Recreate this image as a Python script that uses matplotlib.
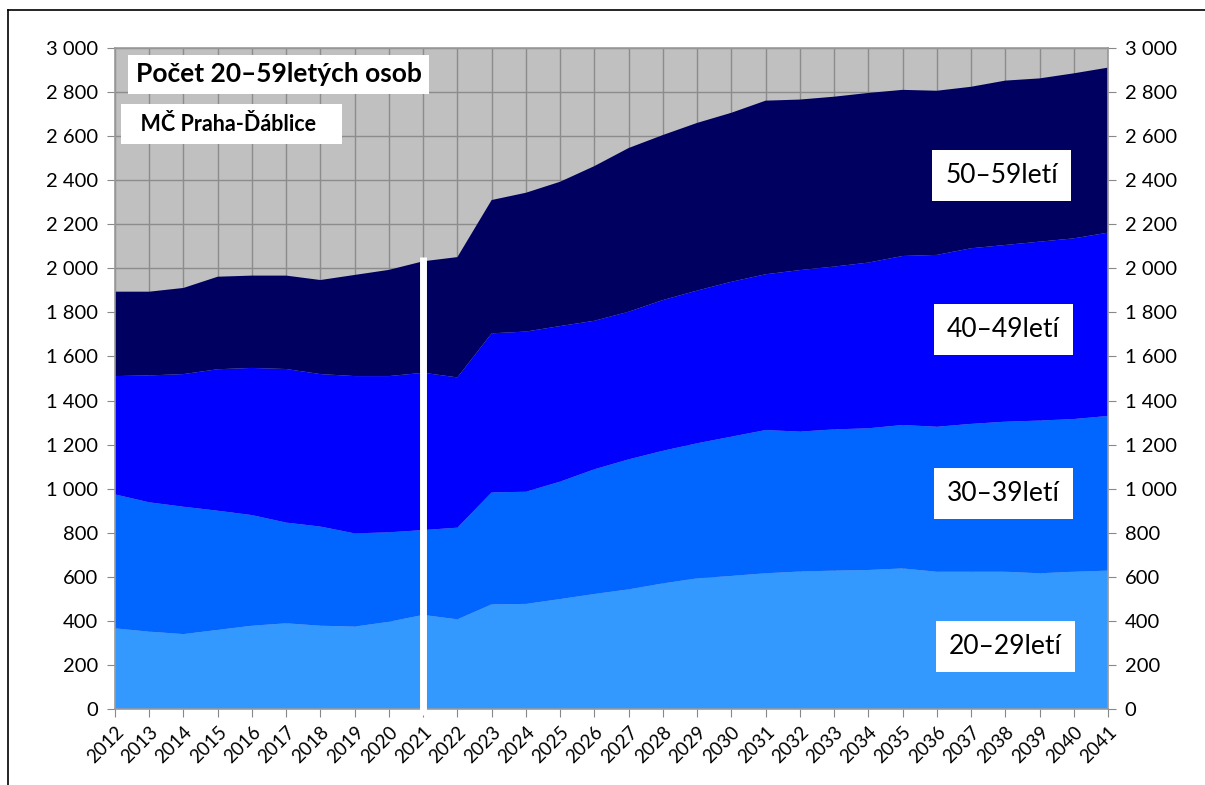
import matplotlib
matplotlib.use("Agg")
import matplotlib.pyplot as plt
from matplotlib.ticker import FuncFormatter, MultipleLocator

years = list(range(2012, 2042))

# počty osob podle věkových skupin
age_20_29 = [366, 351, 340, 359, 378, 389, 378, 374, 396, 427,
             407, 475, 477, 499, 522, 543, 570, 593, 604, 616,
             624, 628, 631, 638, 623, 623, 623, 616, 623, 628]
age_30_39 = [608, 587, 578, 541, 502, 457, 450, 423, 406, 385,
             416, 508, 509, 533, 566, 590, 602, 613, 632, 650,
             635, 641, 643, 651, 658, 671, 681, 693, 693, 702]
age_40_49 = [537, 576, 602, 642, 668, 697, 692, 714, 709, 714,
             682, 722, 727, 706, 674, 670, 684, 693, 703, 707,
             733, 739, 752, 767, 780, 797, 802, 812, 820, 832]
age_50_59 = [383, 380, 391, 420, 419, 424, 427, 459, 482, 506,
             546, 605, 630, 655, 702, 743, 749, 761, 767, 788,
             774, 771, 770, 754, 745, 733, 746, 741, 749, 749]

series_labels = ["20–29letí", "30–39letí", "40–49letí", "50–59letí"]
colors = ["#3399FF", "#0066FF", "#0000FF", "#000060"]

title = "Počet 20–59letých osob"
subtitle = "MČ Praha-Ďáblice"
marker_year = 2021
marker_top = 2050

plt.rcParams["font.family"] = ["Lato", "DejaVu Sans"]

fig = plt.figure(figsize=(12.05, 7.85), dpi=100)
ax = fig.add_axes([115 / 1205, 76 / 785, 993 / 1205, 661 / 785])

ax.set_facecolor("#C0C0C0")
ax.stackplot(years, age_20_29, age_30_39, age_40_49, age_50_59,
             colors=colors, linewidth=0)
ax.set_axisbelow(True)
ax.grid(True, color="#8C8C8C", linewidth=1)

ax.set_xlim(2012, 2041)
ax.set_ylim(0, 3000)
ax.set_xticks(years)
ax.set_xticklabels([str(y) for y in years], rotation=45, ha="right",
                   rotation_mode="anchor", fontsize=13.5)
ax.yaxis.set_major_locator(MultipleLocator(200))
ax.yaxis.set_major_formatter(FuncFormatter(lambda v, p: f"{int(v):,}".replace(",", " ")))
ax.tick_params(axis="y", which="both", left=True, right=True,
               labelleft=True, labelright=True, labelsize=14.5,
               length=6, color="#888888", pad=6)
ax.tick_params(axis="x", length=6, color="#888888", pad=4)
for s in ax.spines.values():
    s.set_color("#999999")
    s.set_linewidth(1.2)

# bílá svislá čára - rok 2021
ax.vlines(marker_year, -25, marker_top, color="white", linewidth=5,
          zorder=5, clip_on=False)

# popisky skupin
label_pos = [(2038.0, 285), (2037.95, 978), (2037.95, 1722), (2037.9, 2420)]
for (lx, ly), txt in zip(label_pos, series_labels):
    ax.text(lx, ly, txt, fontsize=19, ha="center", va="center", zorder=6,
            bbox=dict(boxstyle="square,pad=0.5", facecolor="white", edgecolor="none"))

ax.text(2012.6, 2880, title, fontsize=19, fontweight="bold", ha="left",
        va="center", zorder=6,
        bbox=dict(boxstyle="square,pad=0.3", facecolor="white", edgecolor="none"))
ax.text(2012.45, 2655, "  " + subtitle + "   ", fontsize=15.5, fontweight="bold",
        ha="left", va="center", zorder=6,
        bbox=dict(boxstyle="square,pad=0.45", facecolor="white", edgecolor="none"))

# rámeček obrázku (levá a horní hrana)
fig.add_artist(plt.Line2D([8 / 1205, 8 / 1205], [0, 1 - 10 / 785],
                          color="black", linewidth=1.2, transform=fig.transFigure))
fig.add_artist(plt.Line2D([8 / 1205, 1], [1 - 10 / 785, 1 - 10 / 785],
                          color="black", linewidth=1.2, transform=fig.transFigure))

fig.savefig("out.png", dpi=100)
